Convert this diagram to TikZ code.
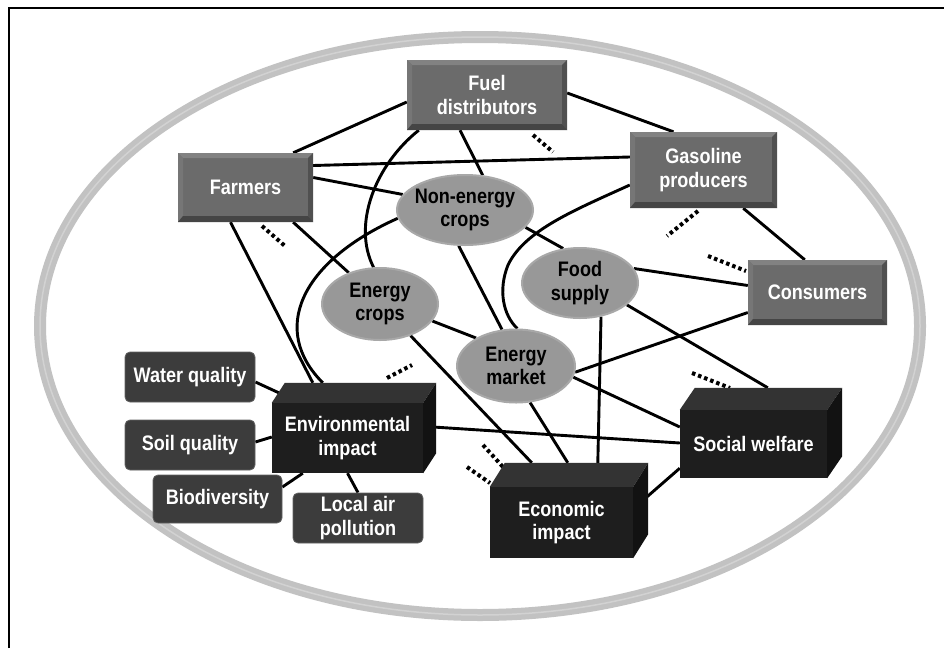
\documentclass[tikz,border=0pt]{standalone}
\usepackage{fontspec}
\newfontfamily\labfont{Liberation Sans}[FakeStretch=0.86]
\usetikzlibrary{shapes.geometric,calc}
\pgfdeclarelayer{bg}
\pgfsetlayers{bg,main}
\definecolor{boxgray}{HTML}{6B6B6B}
\definecolor{bevlight}{HTML}{828282}
\definecolor{bevmid}{HTML}{767676}
\definecolor{bevdark}{HTML}{505050}
\definecolor{bevdarker}{HTML}{454545}
\definecolor{ellgray}{HTML}{989898}
\definecolor{ellrim}{HTML}{A8A8A8}
\definecolor{smallgray}{HTML}{3C3C3C}
\definecolor{cubefront}{HTML}{1E1E1E}
\definecolor{cubetop}{HTML}{333333}
\definecolor{cuberight}{HTML}{121212}
\definecolor{bandgray}{HTML}{C2C2C2}
\definecolor{bandlight}{HTML}{D2D2D2}
\newcommand\labtxt{\labfont\bfseries\fontsize{21}{23.5}\selectfont}
\newcommand\mycube[3]{%
  \fill[cubetop] (#1.north west) -- ($(#1.north west)+(#2,#3)$) -- ($(#1.north east)+(#2,#3)$) -- (#1.north east) -- cycle;
  \fill[cuberight] (#1.north east) -- ($(#1.north east)+(#2,#3)$) -- ($(#1.south east)+(#2,#3)$) -- (#1.south east) -- cycle;}
\tikzset{
  gbox/.style={rectangle, fill=boxgray, text=white, font=\labtxt, align=center, inner sep=0pt,
    path picture={
      \fill[bevlight] (path picture bounding box.north west) -- (path picture bounding box.north east)
        -- ($(path picture bounding box.north east)+(-5,5)$) -- ($(path picture bounding box.north west)+(5,5)$) -- cycle;
      \fill[bevmid] (path picture bounding box.north west) -- ($(path picture bounding box.north west)+(5,5)$)
        -- ($(path picture bounding box.south west)+(5,-6)$) -- (path picture bounding box.south west) -- cycle;
      \fill[bevdark] (path picture bounding box.north east) -- (path picture bounding box.south east)
        -- ($(path picture bounding box.south east)+(-5,-6)$) -- ($(path picture bounding box.north east)+(-5,5)$) -- cycle;
      \fill[bevdarker] (path picture bounding box.south west) -- (path picture bounding box.south east)
        -- ($(path picture bounding box.south east)+(-5,-6)$) -- ($(path picture bounding box.south west)+(5,-6)$) -- cycle;
    }},
  ebox/.style={ellipse, fill=ellgray, draw=ellrim, line width=2pt, text=black, font=\labtxt, align=center, inner sep=-6pt},
  sbox/.style={rectangle, rounded corners=5pt, fill=smallgray, draw=smallgray!80!white, line width=0.8pt, text=white, font=\labtxt, align=center, inner sep=0pt},
  cbox/.style={rectangle, fill=cubefront, text=white, font=\labtxt, align=center, inner sep=0pt},
  conn/.style={draw=black, line width=2.9pt},
  stub/.style={draw=black, line width=4pt, dash pattern=on 3.5pt off 3pt},
}
\begin{document}
\begin{tikzpicture}[x=1pt,y=-1pt]
\useasboundingbox (0,0) rectangle (944,648);

% gray boxes
\node[gbox, minimum width=160pt, minimum height=70pt] (fd) at (487,95) {Fuel\\distributors};
\node[gbox, minimum width=147pt, minimum height=76pt] (gp) at (703.5,170) {Gasoline\\producers};
\node[gbox, minimum width=135pt, minimum height=69pt] (fa) at (245.5,187.5) {Farmers};
\node[gbox, minimum width=139pt, minimum height=65pt] (co) at (817.5,292.5) {Consumers};

% ellipses
\node[ebox, minimum width=136pt, minimum height=70pt] (nec) at (465,210) {Non-energy\\crops};
\node[ebox, minimum width=116pt, minimum height=72pt] (ec) at (380,304) {Energy\\crops};
\node[ebox, minimum width=116pt, minimum height=70pt] (fs) at (580,283) {Food\\supply};
\node[ebox, minimum width=118pt, minimum height=73pt] (em) at (516,366) {Energy\\market};

% small boxes
\node[sbox, minimum width=130pt, minimum height=50pt] (wq) at (190,377) {Water quality};
\node[sbox, minimum width=130pt, minimum height=50pt] (sq) at (190,445) {Soil quality};
\node[sbox, minimum width=129pt, minimum height=48pt] (bd) at (217.5,499) {Biodiversity};
\node[sbox, minimum width=130pt, minimum height=50pt] (lap) at (358,518) {Local air\\pollution};

% cuboids
\node[cbox, minimum width=151pt, minimum height=70pt] (ei) at (347.5,438) {Environmental\\impact};
\node[cbox, minimum width=143pt, minimum height=71pt] (eci) at (561.5,522.5) {Economic\\impact};
\node[cbox, minimum width=147pt, minimum height=68pt] (sw) at (753.5,444) {Social welfare};
\mycube{ei}{13}{-20}
\mycube{eci}{15}{-24}
\mycube{sw}{15}{-22}

% stub coordinates
\coordinate (a1) at (533,135); \coordinate (a2) at (553,152);
\coordinate (b1) at (262,226); \coordinate (b2) at (285,246);
\coordinate (c1) at (698,211); \coordinate (c2) at (667,236);
\coordinate (d1) at (708,256); \coordinate (d2) at (746,271);
\coordinate (e1) at (387,378); \coordinate (e2) at (412,365);
\coordinate (f1) at (483,445); \coordinate (f2) at (503,467);
\coordinate (g1) at (467,467); \coordinate (g2) at (490,483);
\coordinate (h1) at (692,373); \coordinate (h2) at (730,388);

\begin{pgfonlayer}{bg}
\fill[white] (0,0) rectangle (944,648);
\draw[line width=1.4pt] (9,648) -- (9,8) -- (944,8);
\draw[line width=12pt, bandgray] (480,326) ellipse [x radius=440, y radius=289];
\draw[line width=1.5pt, bandlight] (480,326) ellipse [x radius=440, y radius=289];
\begin{scope}[conn]
\draw ($(fd.west)+(0,7)$) -- ($(fa.north east)+(-20,0)$);
\draw ($(fd.east)+(0,-2)$) -- ($(gp.north)+(-30,0)$);
\draw ($(fd.south west)+(12,0)$) .. controls (375,165) and (352,225) .. (ec.100);
\draw (nec.187) .. controls (300,262) and (270,330) .. ($(ei.north west)+(51,-20)$);
\draw ($(fa.south)+(-15,0)$) -- ($(ei.north west)+(41,-20)$);
\draw ($(fa.south east)+(-20,0)$) -- (ec.135);
\draw ($(fa.east)+(0,-22)$) -- ($(gp.west)+(0,-13)$);
\draw ($(fa.east)+(0,-10)$) -- (nec.166);
\draw ($(fd.south)+(-27,0)$) -- (nec.63);
\draw ($(gp.west)+(0,15)$) .. controls (575,210) and (525,230) .. (508,265) .. controls (498,290) and (503,315) .. (em.88);
\draw (nec.344) -- (fs.116);
\draw (nec.260) -- (em.111);
\draw (fs.15) -- ($(co.west)+(0,-7)$);
\draw (fs.335) -- ($(sw.north west)+(88,-22)$);
\draw (fs.302) -- ($(eci.north west)+(108,-24)$);
\draw ($(co.west)+(0,20)$) -- (em.354);
\draw ($(gp.south east)+(-34,0)$) -- ($(co.north west)+(57,0)$);
\draw (ec.342) -- (em.145);
\draw (ec.314) -- ($(eci.north west)+(42,-24)$);
\draw (em.291) -- ($(eci.north west)+(78,-24)$);
\draw (em.349) -- ($(sw.west)+(0,-17)$);
\draw ($(ei.east)+(10,-11)$) -- ($(sw.west)+(0,-1)$);
\draw ($(eci.east)+(13,-25)$) -- ($(sw.south west)+(0,-10)$);
\draw ($(wq.east)+(0,5)$) -- ($(ei.north west)+(7,-10)$);
\draw ($(sq.east)+(0,-3)$) -- ($(ei.west)+(0,-1)$);
\draw ($(bd.east)+(0,-12)$) -- ($(ei.south west)+(31,0)$);
\draw (lap.north) -- (ei.south);
\end{scope}
\draw[stub] (a1) -- (a2);
\draw[stub] (b1) -- (b2);
\draw[stub] (c1) -- (c2);
\draw[stub] (d1) -- (d2);
\draw[stub] (e1) -- (e2);
\draw[stub] (f1) -- (f2);
\draw[stub] (g1) -- (g2);
\draw[stub] (h1) -- (h2);
\end{pgfonlayer}
\end{tikzpicture}
\end{document}
